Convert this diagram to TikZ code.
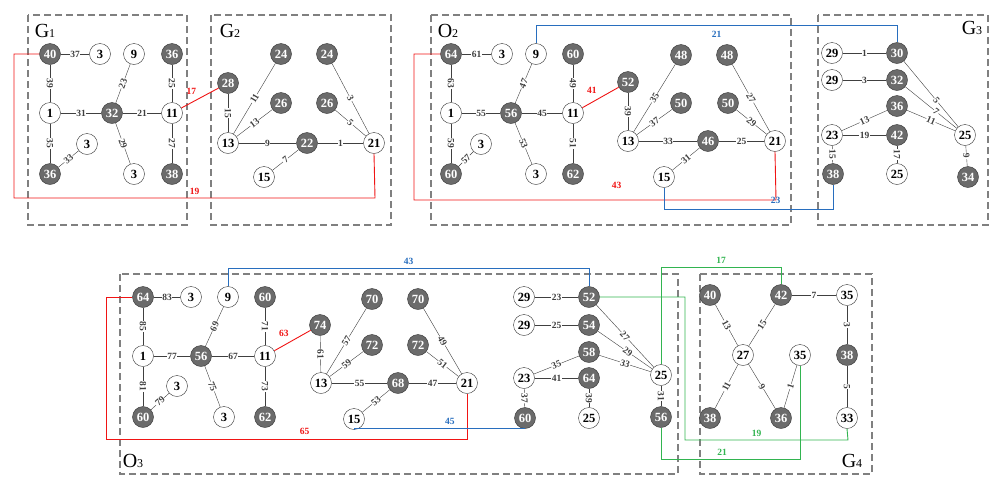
\documentclass[tikz,border=0pt]{standalone}
\usepackage{fontspec}
\setmainfont{Liberation Serif}
\definecolor{lr}{RGB}{240,20,20}
\definecolor{lb}{RGB}{40,110,190}
\definecolor{lg}{RGB}{50,180,80}
\begin{document}
\begin{tikzpicture}[x=1pt,y=-1pt,
 nd/.style={circle,draw=black!80,thin,minimum size=21pt,inner sep=0pt,font=\fontsize{12.5}{12.5}\selectfont\bfseries},
 w/.style={nd,fill=white},
 g/.style={nd,fill=black!58,text=white},
 e/.style={black!75,thin},
 lab/.style={fill=white,inner sep=0.5pt,font=\fontsize{9.5}{9.5}\selectfont\bfseries,sloped},
 box/.style={dashed,dash pattern=on 7pt off 4pt,draw=black!50,line width=1.1pt},
 glab/.style={font=\fontsize{20}{20}\selectfont},
 rl/.style={draw=lr,line width=0.9pt},
 bl/.style={draw=lb,line width=0.9pt},
 gl/.style={draw=lg,line width=0.9pt},
 cl/.style={font=\fontsize{9.5}{9.5}\selectfont\bfseries}]
\useasboundingbox (0,0) rectangle (1002,491);
% boxes
\draw[box] (28,15) rectangle (187,225);
\draw[box] (211,15) rectangle (391,225);
\draw[box] (431,15) rectangle (791,225);
\draw[box] (818,15) rectangle (988,225);
\draw[box] (120,274) rectangle (678,474);
\draw[box] (700,274) rectangle (872,474);
\node[glab] (lg1) at (45,31) {G\fontsize{12}{12}\selectfont 1};
\node[glab] (lg2) at (230,31) {G\fontsize{12}{12}\selectfont 2};
\node[glab] (lo2) at (448,31) {O\fontsize{12}{12}\selectfont 2};
\node[glab] (lg3) at (972,28) {G\fontsize{12}{12}\selectfont 3};
\node[glab] (lo3) at (133,461) {O\fontsize{12}{12}\selectfont 3};
\node[glab] (lg4) at (852,461) {G\fontsize{12}{12}\selectfont 4};
% ===== G1
\node[g] (a40) at (50,54) {40};
\node[w] (a3a) at (100,54) {3};
\node[w] (a9) at (134,54) {9};
\node[g] (a36a) at (172,54) {36};
\node[w] (a1) at (50,113) {1};
\node[g] (a32) at (112,113) {32};
\node[w] (a11) at (172,113) {11};
\node[w] (a3b) at (87,144) {3};
\node[g] (a36b) at (50,174) {36};
\node[w] (a3c) at (134,174) {3};
\node[g] (a38) at (172,174) {38};
\draw[e] (a40)--node[lab]{37}(a3a);
\draw[e] (a40)--node[lab]{39}(a1);
\draw[e] (a1)--node[lab]{31}(a32);
\draw[e] (a32)--node[lab]{23}(a9);
\draw[e] (a32)--node[lab]{21}(a11);
\draw[e] (a36a)--node[lab]{25}(a11);
\draw[e] (a1)--node[lab]{35}(a36b);
\draw[e] (a36b)--node[lab]{33}(a3b);
\draw[e] (a32)--node[lab]{29}(a3c);
\draw[e] (a11)--node[lab]{27}(a38);
% ===== G2
\node[g] (b28) at (228,83) {28};
\node[g] (b24a) at (281,54) {24};
\node[g] (b24b) at (327,54) {24};
\node[g] (b26a) at (281,103) {26};
\node[g] (b26b) at (327,103) {26};
\node[w] (b13) at (228,143) {13};
\node[g] (b22) at (307,143) {22};
\node[w] (b21) at (374,143) {21};
\node[w] (b15) at (264,177) {15};
\draw[e] (b28)--node[lab]{15}(b13);
\draw[e] (b13)--node[lab]{11}(b24a);
\draw[e] (b13)--node[lab]{13}(b26a);
\draw[e] (b13)--node[lab]{9}(b22);
\draw[e] (b22)--node[lab]{1}(b21);
\draw[e] (b15)--node[lab]{7}(b22);
\draw[e] (b24b)--node[lab]{3}(b21);
\draw[e] (b26b)--node[lab]{5}(b21);
\draw[rl] (a11)--node[cl,text=lr,above left=0pt,pos=0.5]{17}(b28);
\draw[rl] (a40.west) -| (14,198) -- node[cl,text=lr,above,pos=0.5]{19} (375,198) -- (b21.south);
% ===== O2
\node[g] (c64) at (451,54) {64};
\node[w] (c3a) at (502,54) {3};
\node[w] (c9) at (536,54) {9};
\node[g] (c60a) at (573,54) {60};
\node[g] (c52) at (628,82) {52};
\node[g] (c48a) at (681,55) {48};
\node[g] (c48b) at (727,55) {48};
\node[w] (c1) at (451,113) {1};
\node[g] (c56) at (511,113) {56};
\node[w] (c11) at (573,113) {11};
\node[g] (c50a) at (681,103) {50};
\node[g] (c50b) at (728,103) {50};
\node[w] (c3b) at (481,144) {3};
\node[w] (c13) at (628,141) {13};
\node[g] (c46) at (708,141) {46};
\node[w] (c21) at (775,141) {21};
\node[g] (c60b) at (451,174) {60};
\node[w] (c3c) at (536,174) {3};
\node[g] (c62) at (573,174) {62};
\node[w] (c15) at (664,177) {15};
\draw[e] (c64)--node[lab]{61}(c3a);
\draw[e] (c64)--node[lab]{63}(c1);
\draw[e] (c1)--node[lab]{55}(c56);
\draw[e] (c56)--node[lab]{47}(c9);
\draw[e] (c56)--node[lab]{45}(c11);
\draw[e] (c60a)--node[lab]{49}(c11);
\draw[e] (c1)--node[lab]{59}(c60b);
\draw[e] (c60b)--node[lab]{57}(c3b);
\draw[e] (c56)--node[lab]{53}(c3c);
\draw[e] (c11)--node[lab]{51}(c62);
\draw[e] (c52)--node[lab]{39}(c13);
\draw[e] (c13)--node[lab]{35}(c48a);
\draw[e] (c13)--node[lab]{37}(c50a);
\draw[e] (c13)--node[lab]{33}(c46);
\draw[e] (c46)--node[lab]{25}(c21);
\draw[e] (c15)--node[lab]{31}(c46);
\draw[e] (c48b)--node[lab]{27}(c21);
\draw[e] (c50b)--node[lab]{29}(c21);
\draw[rl] (c11)--node[cl,text=lr,above left=0pt,pos=0.5]{41}(c52);
\draw[rl] (c64.west) -| (414,200) -- node[cl,text=lr,above=8pt,pos=0.56]{43} (776,200) -- (c21.south);
% ===== G3
\node[w] (d29a) at (832,53) {29};
\node[g] (d30) at (897,53) {30};
\node[w] (d29b) at (832,80) {29};
\node[g] (d32) at (897,80) {32};
\node[g] (d36) at (897,106) {36};
\node[w] (d23) at (832,135) {23};
\node[g] (d42) at (897,135) {42};
\node[w] (d25a) at (965,135) {25};
\node[g] (d38) at (833,174) {38};
\node[w] (d25b) at (897,174) {25};
\node[g] (d34) at (968,177) {34};
\draw[e] (d29a)--node[lab]{1}(d30);
\draw[e] (d29b)--node[lab]{3}(d32);
\draw[e] (d30)--node[lab,pos=0.6]{5}(d25a);
\draw[e] (d32)--node[lab,pos=0.6]{7}(d25a);
\draw[e] (d36)--node[lab]{11}(d25a);
\draw[e] (d23)--node[lab]{13}(d36);
\draw[e] (d23)--node[lab]{19}(d42);
\draw[e] (d23)--node[lab]{15}(d38);
\draw[e] (d42)--node[lab]{17}(d25b);
\draw[e] (d25a)--node[lab]{9}(d34);
\draw[bl] (c9.north) -- (536,25) -- node[cl,below=2pt,pos=0.5,text=lb]{21} (897,25) -- (d30.north);
\draw[bl] (c15.south) |- node[cl,above=2pt,pos=0.83,text=lb]{23} (833,209) -- (d38.south);
% ===== O3
\node[g] (e64) at (143,297) {64};
\node[w] (e3a) at (191,297) {3};
\node[w] (e9) at (228,297) {9};
\node[g] (e60a) at (265,297) {60};
\node[g] (e70a) at (372,299) {70};
\node[g] (e70b) at (418,299) {70};
\node[g] (e74) at (320,325) {74};
\node[g] (e72a) at (372,345) {72};
\node[g] (e72b) at (418,345) {72};
\node[w] (e1) at (143,356) {1};
\node[g] (e56) at (201,356) {56};
\node[w] (e11) at (265,356) {11};
\node[w] (e3b) at (177,386) {3};
\node[w] (e13) at (321,383) {13};
\node[g] (e68) at (398,383) {68};
\node[w] (e21) at (467,383) {21};
\node[g] (e60b) at (143,417) {60};
\node[w] (e3c) at (224,417) {3};
\node[g] (e62) at (265,417) {62};
\node[w] (e15) at (354,419) {15};
\draw[e] (e64)--node[lab]{83}(e3a);
\draw[e] (e64)--node[lab]{85}(e1);
\draw[e] (e1)--node[lab]{77}(e56);
\draw[e] (e56)--node[lab]{69}(e9);
\draw[e] (e56)--node[lab]{67}(e11);
\draw[e] (e60a)--node[lab]{71}(e11);
\draw[e] (e1)--node[lab]{81}(e60b);
\draw[e] (e60b)--node[lab]{79}(e3b);
\draw[e] (e56)--node[lab]{75}(e3c);
\draw[e] (e11)--node[lab]{73}(e62);
\draw[e] (e74)--node[lab]{61}(e13);
\draw[e] (e13)--node[lab]{57}(e70a);
\draw[e] (e13)--node[lab]{59}(e72a);
\draw[e] (e13)--node[lab]{55}(e68);
\draw[e] (e68)--node[lab]{47}(e21);
\draw[e] (e15)--node[lab]{53}(e68);
\draw[e] (e70b)--node[lab]{49}(e21);
\draw[e] (e72b)--node[lab]{51}(e21);
\draw[rl] (e11)--node[cl,text=lr,above left=0pt,pos=0.5]{63}(e74);
\draw[rl] (e64.west) -| (106,439) -- node[cl,text=lr,above=1pt,pos=0.55]{65} (467,439) -- (e21.south);
% right group of O3
\node[w] (f29a) at (524,297) {29};
\node[g] (f52) at (589,297) {52};
\node[w] (f29b) at (524,325) {29};
\node[g] (f54) at (589,325) {54};
\node[g] (f58) at (589,352) {58};
\node[w] (f23) at (524,378) {23};
\node[g] (f64) at (589,378) {64};
\node[w] (f25a) at (661,375) {25};
\node[g] (f60) at (525,418) {60};
\node[w] (f25b) at (589,418) {25};
\node[g] (f56) at (661,417) {56};
\draw[e] (f29a)--node[lab]{23}(f52);
\draw[e] (f29b)--node[lab]{25}(f54);
\draw[e] (f52)--node[lab]{27}(f25a);
\draw[e] (f54)--node[lab,pos=0.55]{29}(f25a);
\draw[e] (f58)--node[lab]{33}(f25a);
\draw[e] (f23)--node[lab]{35}(f58);
\draw[e] (f23)--node[lab]{41}(f64);
\draw[e] (f23)--node[lab]{37}(f60);
\draw[e] (f64)--node[lab]{39}(f25b);
\draw[e] (f25a)--node[lab]{31}(f56);
\draw[bl] (e9.north) -- (228,268) -- node[cl,above,pos=0.5,text=lb]{43} (589,268) -- (f52.north);
\draw[bl] (e15.south) |- node[cl,above,pos=0.78,text=lb]{45} (f60.south);
% ===== G4
\node[g] (h40) at (710,295) {40};
\node[g] (h42) at (781,295) {42};
\node[w] (h35a) at (847,295) {35};
\node[w] (h27) at (743,355) {27};
\node[w] (h35b) at (800,355) {35};
\node[g] (h38a) at (847,355) {38};
\node[g] (h38b) at (710,418) {38};
\node[g] (h36) at (781,418) {36};
\node[w] (h33) at (847,418) {33};
\draw[e] (h40)--node[lab]{13}(h27);
\draw[e] (h27)--node[lab]{15}(h42);
\draw[e] (h42)--node[lab]{7}(h35a);
\draw[e] (h35a)--node[lab]{3}(h38a);
\draw[e] (h38a)--node[lab]{5}(h33);
\draw[e] (h38b)--node[lab]{11}(h27);
\draw[e] (h27)--node[lab]{9}(h36);
\draw[e] (h36)--node[lab]{1}(h35b);
\draw[gl] (f52.east) -| (685,440) -- node[cl,above,pos=0.44,text=lg]{19} (848,440) -- (h33.south);
\draw[gl] (f25a.north) -- (661,267) -- node[cl,above,pos=0.5,text=lg]{17} (781,267) -- (h42.north);
\draw[gl] (f56.south) |- node[cl,above,pos=0.72,text=lg]{21} (h35b.south |- 0,459) -- (h35b.south);
\end{tikzpicture}
\end{document}
